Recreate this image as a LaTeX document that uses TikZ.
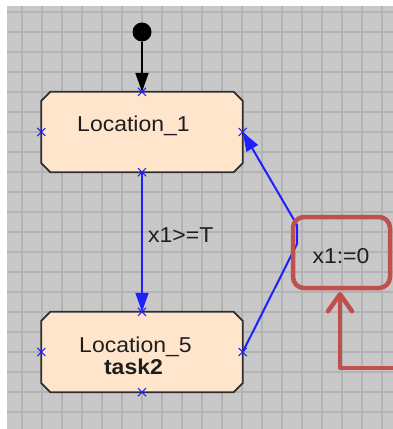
\documentclass[tikz,border=0pt]{standalone}
\usepackage{fontspec}
\usetikzlibrary{arrows.meta,shapes.misc}
\newfontfamily\uifont[FakeStretch=1.07]{Liberation Sans}
\definecolor{bggray}{HTML}{C8C8C8}
\definecolor{gridgray}{HTML}{B3B3B3}
\definecolor{locfill}{HTML}{FFE5CC}
\definecolor{locline}{HTML}{2E2E2E}
\definecolor{txtdark}{HTML}{1E1E1E}
\definecolor{transblue}{HTML}{2020FF}
\definecolor{notered}{HTML}{C0504D}
\tikzset{
  gridline/.style={draw=gridgray, line width=1.5pt},
  location/.style={rectangle, minimum width=201pt, minimum height=80pt,
    inner sep=0pt},
  locoutline/.style={draw=locline, fill=locfill, line width=1.8pt},
  lbl/.style={font=\uifont\fontsize{21.5}{24}\selectfont, text=txtdark,
    inner sep=0pt, anchor=base},
  xmark/.style={cross out, draw=transblue, line width=1.1pt, minimum size=7pt,
    inner sep=0pt},
  initdot/.style={circle, fill=black, minimum size=19pt, inner sep=0pt},
  initarrow/.style={draw=black, line width=2pt,
    -{Triangle[length=19pt,width=13pt]}},
  trans/.style={draw=transblue, line width=2pt,
    -{Triangle[length=19pt,width=13pt]}},
  notebox/.style={draw=notered, line width=4.5pt, rounded corners=11pt,
    minimum width=97pt, minimum height=71pt, inner sep=0pt},
  notearrow/.style={draw=notered, line width=4.5pt, line join=round,
    -{Straight Barb[length=17pt,width=24pt,round]}}
}
% octagonal outline with cut corners around a location node
\newcommand{\cutcornerbox}[1]{%
  \draw[locoutline]
    ([xshift=9pt]#1.north west) -- ([xshift=-9pt]#1.north east)
    -- ([yshift=-9pt]#1.north east) -- ([yshift=9pt]#1.south east)
    -- ([xshift=-9pt]#1.south east) -- ([xshift=9pt]#1.south west)
    -- ([yshift=9pt]#1.south west) -- ([yshift=-9pt]#1.north west) -- cycle;}
\begin{document}
\begin{tikzpicture}[x=1pt,y=-1pt]
\useasboundingbox (0,0) rectangle (393,429);
% canvas with its grid
\fill[bggray] (7,6) rectangle (393,429);
\foreach \gx in {22,42,...,382} \draw[gridline] (\gx,6) -- (\gx,429);
\foreach \gy in {12,32,...,412} \draw[gridline] (7,\gy) -- (393,\gy);

% locations
\node[location] (l1) at (142,132) {};
\node[location] (l5) at (142,352) {};
\cutcornerbox{l1}
\cutcornerbox{l5}
\node[lbl] (l1name) at (133.5,131) {Location\_1};
\node[lbl] (l5name) at (135.5,352) {Location\_5};
\node[lbl] (l5task) at (133.5,374) {\bfseries task2};

% initial state
\node[initdot] (init) at (142,32) {};
\draw[initarrow] (init) -- (l1.north);

% transitions
\draw[trans] (l1.south) -- (l5.north);
\node[lbl, anchor=base west] (guard) at (148,242) {x1>=T};
\coordinate (bendlow) at (297,244);
\coordinate (bendhigh) at (297,225);
\draw[trans] (l5.east) -- (bendlow) -- (bendhigh) -- (l1.east);

% connection points
\foreach \loc in {l1,l5}
  \foreach \side in {north,south,east,west}
    \node[xmark] (\loc-\side-pt) at (\loc.\side) {};

% update label and its highlight
\node[lbl] (update) at (341,263) {x1:=0};
\node[notebox] (hl) at (341.5,252.5) {};
\coordinate (notetail) at (393,368);
\coordinate (notetip) at (340,292);
\draw[notearrow] (notetail) -| (notetip);
\end{tikzpicture}
\end{document}
